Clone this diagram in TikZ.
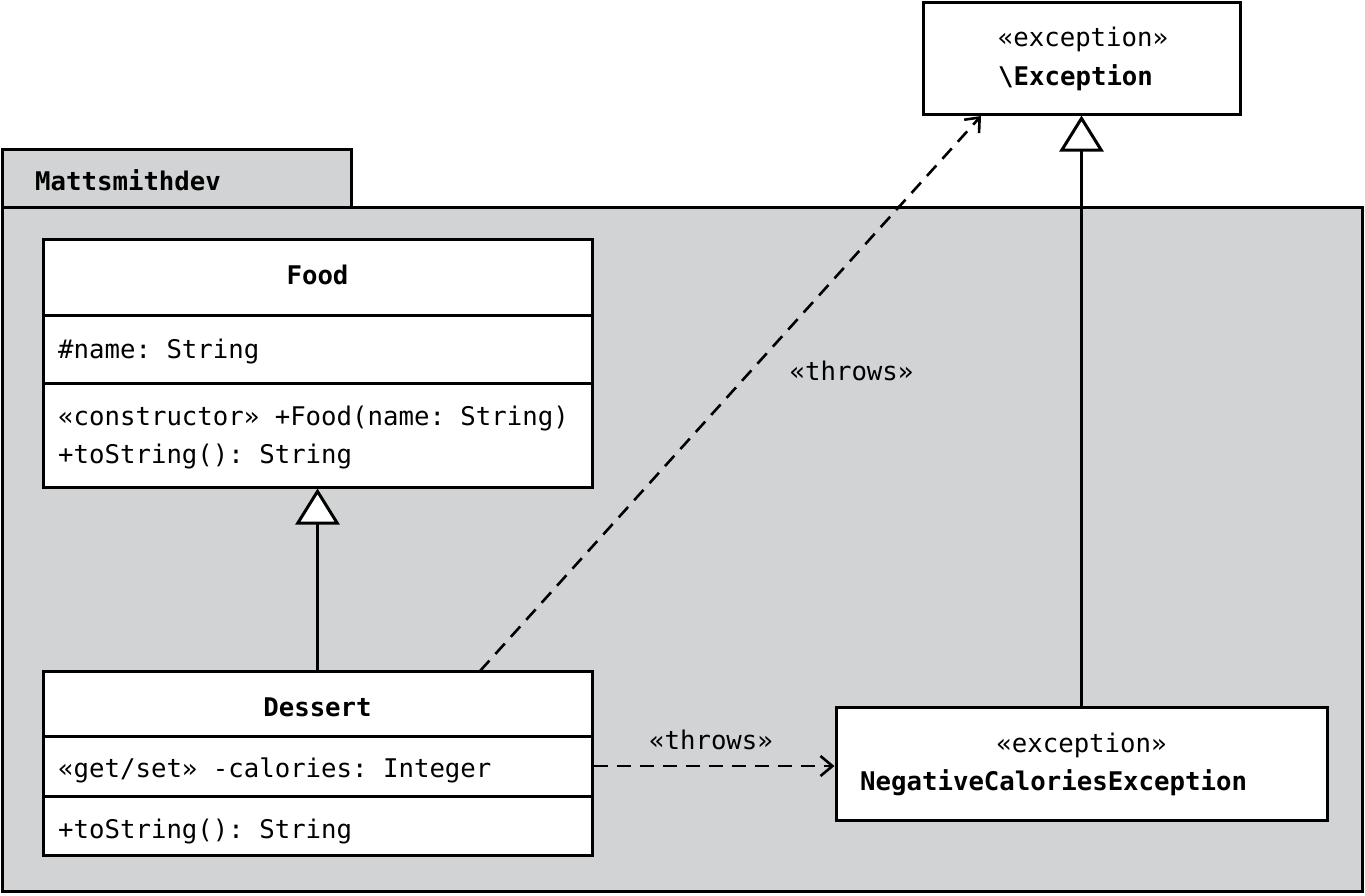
\documentclass[tikz,border=0pt]{standalone}
\usepackage{fontspec}
\setmonofont{DejaVu Sans Mono}
\usetikzlibrary{arrows.meta}
\definecolor{pkggray}{HTML}{D1D3D4}
\begin{document}
\begin{tikzpicture}[x=1pt,y=-1pt,
  txt/.style={font=\ttfamily\fontsize{25.7}{30}\selectfont, inner sep=0pt},
  btxt/.style={font=\ttfamily\bfseries\fontsize{25.7}{30}\selectfont, inner sep=0pt},
  box/.style={draw, line width=3pt, fill=white, rectangle, inner sep=0pt},
  pkgbox/.style={draw, line width=3pt, fill=pkggray, rectangle, inner sep=0pt},
  divider/.style={line width=3pt},
  gen/.style={line width=2.6pt, -{Triangle[length=36pt, width=44pt, fill=white, line width=3pt]}},
  dep/.style={line width=2.6pt, dash pattern=on 14pt off 9pt, -{Straight Barb[length=12pt, width=20pt, line width=2.6pt]}}]
\useasboundingbox (0,0) rectangle (1365,895);
\fill[white] (0,0) rectangle (1365,895);
% package
\node[pkgbox, minimum width=349pt, minimum height=58pt] (tab) at (176.5,178) {};
\node[pkgbox, minimum width=1360pt, minimum height=684pt] (pkg) at (682,549) {};
\node[btxt, anchor=base west] (pkgname) at (35,190) {Mattsmithdev};
% Exception
\node[box, minimum width=317pt, minimum height=112pt] (exc) at (1081.5,58) {};
\node[txt, anchor=base] (excst) at (1083,46) {«exception»};
\node[btxt, anchor=base west] (excname) at (998,85) {\textbackslash Exception};
% Food
\node[box, minimum width=549pt, minimum height=248pt] (food) at (317.5,363) {};
\draw[divider] (43,315) -- (592,315);
\draw[divider] (43,383) -- (592,383);
\node[btxt, anchor=base] (foodname) at (317.5,284) {Food};
\node[txt, anchor=base west] (foodattr) at (58,358) {\#name: String};
\node[txt, anchor=base west] (foodop1) at (58,425) {«constructor» +Food(name: String)};
\node[txt, anchor=base west] (foodop2) at (58,463) {+toString(): String};
% Dessert
\node[box, minimum width=549pt, minimum height=184pt] (dessert) at (317.5,763.5) {};
\draw[divider] (43,736) -- (592,736);
\draw[divider] (43,796) -- (592,796);
\node[btxt, anchor=base] (dessname) at (317.5,716) {Dessert};
\node[txt, anchor=base west] (dessattr) at (58,777) {«get/set» -calories: Integer};
\node[txt, anchor=base west] (dessop) at (58,838) {+toString(): String};
% NegativeCaloriesException
\node[box, minimum width=491pt, minimum height=113pt] (neg) at (1081.5,763.5) {};
\node[txt, anchor=base] (negst) at (1081.5,752) {«exception»};
\node[btxt, anchor=base west] (negname) at (860,790) {NegativeCaloriesException};
% connectors
\draw[gen] (dessert.north) -- (food.south);
\draw[gen] (neg.north) -- (exc.south);
\coordinate (t1s) at (480,671);
\coordinate (t1e) at (981,116);
\draw[dep] (t1s) -- (t1e);
\coordinate (t2) at (0,766);
\draw[dep] (dessert.east |- t2) -- (neg.west |- t2);
\node[txt, anchor=base] (lbl1) at (851.5,380) {«throws»};
\node[txt, anchor=base] (lbl2) at (711,749) {«throws»};
\end{tikzpicture}
\end{document}
